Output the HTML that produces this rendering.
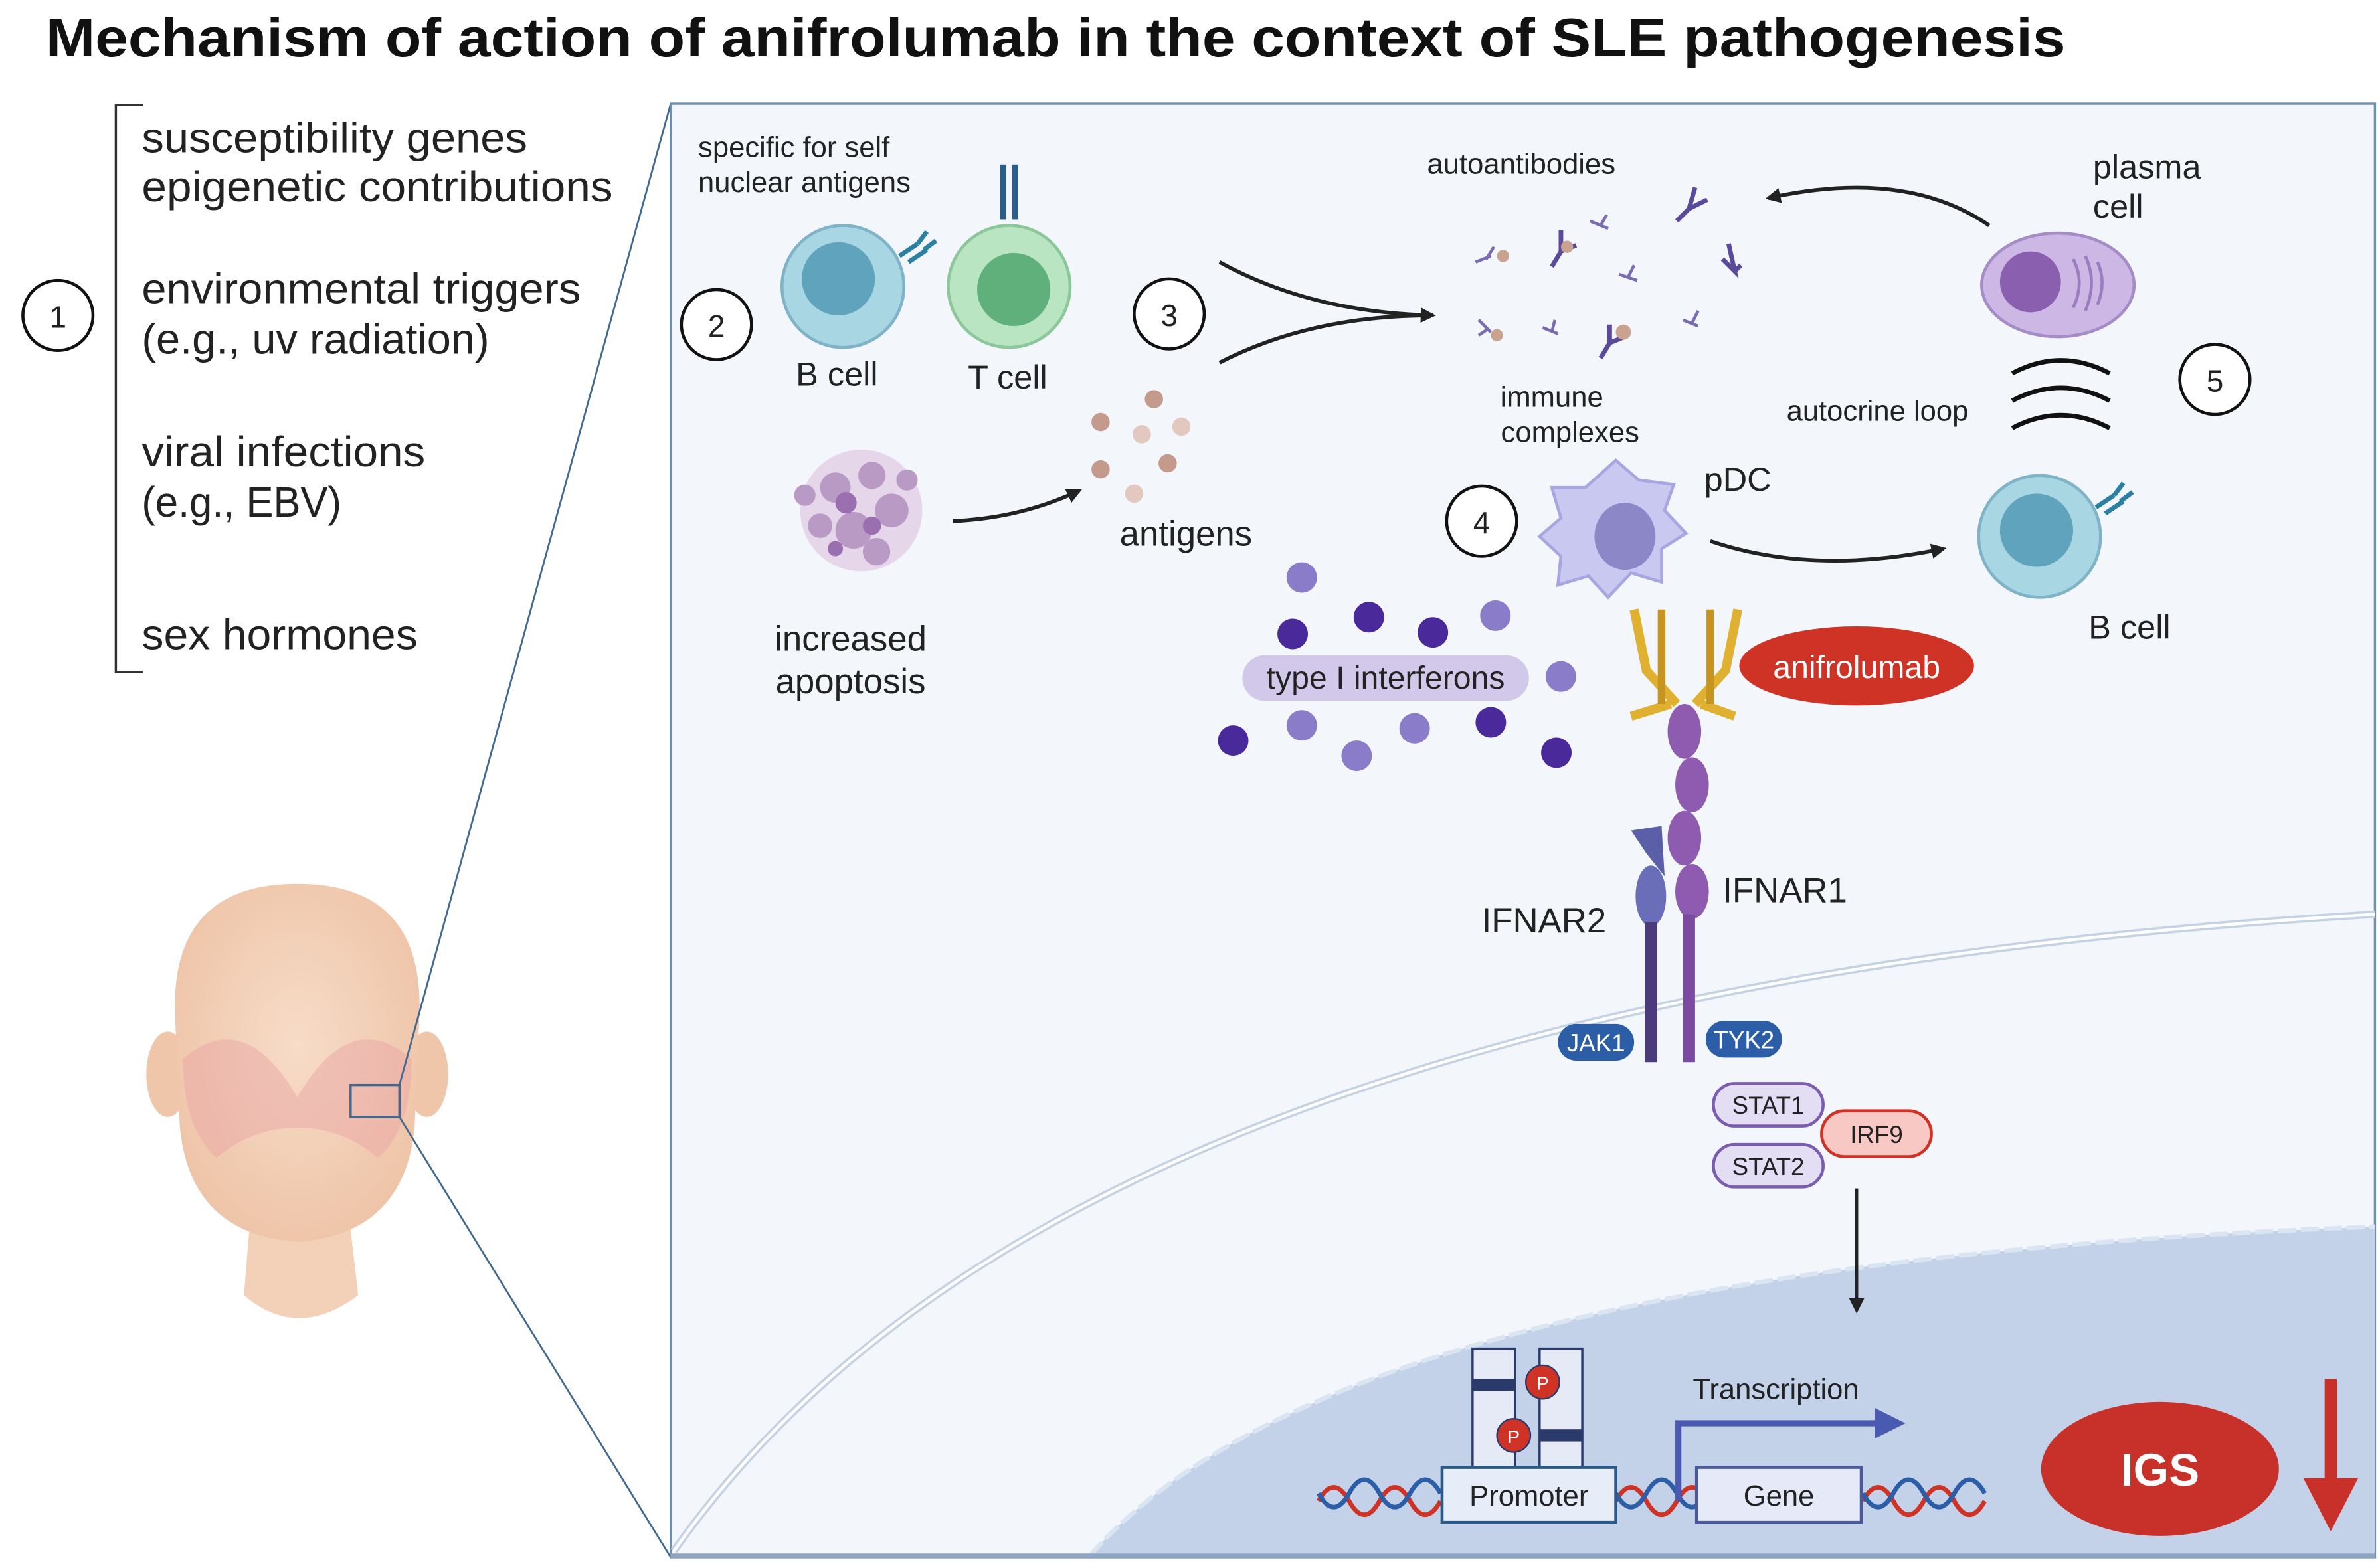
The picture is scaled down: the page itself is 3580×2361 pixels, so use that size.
<!DOCTYPE html>
<html><head><meta charset="utf-8"><style>
html,body{margin:0;padding:0;background:#fff;width:3580px;height:2361px;overflow:hidden}
svg{display:block}
text{font-family:"Liberation Sans",Arial,sans-serif;fill:#222}
</style></head><body>
<svg width="3580" height="2361" viewBox="0 0 1560 1029" preserveAspectRatio="none" xmlns="http://www.w3.org/2000/svg">
<defs>
<marker id="ah" markerWidth="10" markerHeight="10" refX="8" refY="5" orient="auto" markerUnits="userSpaceOnUse"><path d="M0,0 L10,5 L0,10 z" fill="#222"/></marker>
<radialGradient id="skin" cx="50%" cy="45%" r="60%"><stop offset="0" stop-color="#f7dcc8"/><stop offset="1" stop-color="#eec3a6"/></radialGradient>
</defs>
<text x="30" y="37" font-size="36" font-weight="bold" textLength="1325" lengthAdjust="spacingAndGlyphs" style="fill:#111">Mechanism of action of anifrolumab in the context of SLE pathogenesis</text>

<!-- left list -->
<path d="M94,69 H76 V441 H94" fill="none" stroke="#333" stroke-width="1.5"/>
<g font-size="28">
<text x="93" y="100" textLength="253" lengthAdjust="spacingAndGlyphs">susceptibility genes</text>
<text x="93" y="132" textLength="309" lengthAdjust="spacingAndGlyphs">epigenetic contributions</text>
<text x="93" y="199" textLength="288" lengthAdjust="spacingAndGlyphs">environmental triggers</text>
<text x="93" y="232" textLength="228" lengthAdjust="spacingAndGlyphs">(e.g., uv radiation)</text>
<text x="93" y="306" textLength="186" lengthAdjust="spacingAndGlyphs">viral infections</text>
<text x="93" y="339" textLength="131" lengthAdjust="spacingAndGlyphs">(e.g., EBV)</text>
<text x="93" y="426" textLength="181" lengthAdjust="spacingAndGlyphs">sex hormones</text>
</g>
<circle cx="38" cy="207" r="23" fill="#fff" stroke="#111" stroke-width="2"/>
<text x="38" y="215" font-size="20" text-anchor="middle">1</text>

<!-- head -->
<path d="M165,790 L160,850 Q195,880 235,850 L228,790 Z" fill="#f3d0b8"/>
<ellipse cx="110" cy="705" rx="14" ry="28" fill="#efc6aa"/>
<ellipse cx="280" cy="705" rx="14" ry="28" fill="#efc6aa"/>
<path d="M115,670 Q110,580 195,580 Q280,580 275,670 L272,740 Q265,810 195,815 Q125,810 118,740 Z" fill="url(#skin)"/>
<path d="M120,695 Q160,660 195,720 Q230,660 270,695 Q270,740 248,760 Q225,740 195,740 Q165,740 142,760 Q120,740 120,695 Z" fill="#e8a2a4" opacity="0.45"/>
<rect x="230" y="712" width="32" height="21" fill="none" stroke="#41698f" stroke-width="1.5"/>
<line x1="262" y1="712" x2="440" y2="68" stroke="#41698f" stroke-width="1.2"/>
<line x1="262" y1="733" x2="440" y2="1022" stroke="#41698f" stroke-width="1.2"/>

<!-- panel -->
<rect x="440" y="68" width="1118" height="954" fill="#f3f7fc" stroke="#6f8fae" stroke-width="1.5"/>
<path d="M442,1018 Q700,650 1558,600" fill="none" stroke="#c4d2e4" stroke-width="5"/>
<path d="M442,1018 Q700,650 1558,600" fill="none" stroke="#fff" stroke-width="2"/>
<path d="M715,1021 Q880,830 1558,805 L1558,1021 Z" fill="#c3d2e8"/>
<path d="M715,1021 Q880,830 1558,805" fill="none" stroke="#dbe5f2" stroke-width="3" stroke-dasharray="12,3"/>
<line x1="440" y1="1021" x2="1558" y2="1021" stroke="#8ea6c2" stroke-width="3"/>

<!-- step 2 cells -->
<text x="458" y="103" font-size="19">specific for self</text>
<text x="458" y="126" font-size="19">nuclear antigens</text>
<circle cx="553" cy="188" r="40" fill="#a9d6e3" stroke="#7fb4c8" stroke-width="2"/>
<circle cx="550" cy="183" r="24" fill="#5fa3bd"/>
<path d="M590,168 l12,-8 M596,172 l12,-8 M602,160 l6,-8 M606,164 l8,-6" stroke="#2b7fa3" stroke-width="3"/>
<circle cx="662" cy="188" r="40" fill="#b9e5c2" stroke="#8cc79a" stroke-width="2"/>
<circle cx="665" cy="190" r="24" fill="#5fb07a"/>
<rect x="656" y="108" width="4" height="36" fill="#2c5d8a"/><rect x="664" y="108" width="4" height="36" fill="#2c5d8a"/>
<text x="549" y="253" font-size="22" text-anchor="middle">B cell</text>
<text x="661" y="255" font-size="22" text-anchor="middle">T cell</text>
<circle cx="470" cy="213" r="23" fill="#fff" stroke="#111" stroke-width="2"/>
<text x="470" y="221" font-size="20" text-anchor="middle">2</text>
<circle cx="767" cy="206" r="23" fill="#fff" stroke="#111" stroke-width="2"/>
<text x="767" y="214" font-size="20" text-anchor="middle">3</text>

<path d="M800,172 Q860,205 940,207" fill="none" stroke="#222" stroke-width="2.5" marker-end="url(#ah)"/>
<path d="M800,238 Q860,207 940,207" fill="none" stroke="#222" stroke-width="2.5"/>

<text x="998" y="114" font-size="19" text-anchor="middle">autoantibodies</text>
<g stroke="#5b4a99" stroke-width="3" fill="none">
<path d="M1100,145 l8,-8 l4,-14 M1108,137 l12,-6"/>
<path d="M1018,175 l6,-10 l0,-14 M1024,165 l10,-4"/>
<path d="M1130,170 l8,8 l-4,-18 M1138,178 l4,-4"/>
<path d="M1050,235 l6,-10 l0,-12 M1056,225 l10,-4"/>
<path d="M968,172 l10,-4 M975,170 l5,-8" stroke="#7b6bb3" stroke-width="2"/>
<path d="M1043,145 l12,5 M1050,148 l4,-7" stroke="#7b6bb3" stroke-width="2"/>
<path d="M1062,180 l12,4 M1068,182 l4,-8" stroke="#7b6bb3" stroke-width="2"/>
<path d="M970,210 l8,8 M976,216 l-6,4" stroke="#7b6bb3" stroke-width="2"/>
<path d="M1012,215 l10,4 M1018,218 l2,-8" stroke="#7b6bb3" stroke-width="2"/>
<path d="M1104,210 l10,4 M1110,212 l4,-8" stroke="#7b6bb3" stroke-width="2"/>
</g>
<circle cx="986" cy="168" r="4" fill="#c9a38f"/><circle cx="1028" cy="162" r="4" fill="#c9a38f"/><circle cx="982" cy="220" r="4" fill="#c9a38f"/><circle cx="1065" cy="218" r="5" fill="#c9a38f"/>
<text x="1018" y="267" font-size="19" text-anchor="middle">immune</text>
<text x="1030" y="290" font-size="19" text-anchor="middle">complexes</text>

<path d="M1305,148 Q1250,110 1160,130" fill="none" stroke="#222" stroke-width="2.5" marker-end="url(#ah)"/>
<text x="1373" y="117" font-size="22">plasma</text>
<text x="1373" y="143" font-size="22">cell</text>
<ellipse cx="1350" cy="187" rx="50" ry="34" fill="#cdb7e4" stroke="#a58cc8" stroke-width="2"/>
<circle cx="1332" cy="185" r="20" fill="#8a5fb0"/>
<path d="M1360,170 q8,15 0,32 M1368,168 q8,17 0,36 M1376,172 q6,13 0,28" fill="none" stroke="#9a7cc0" stroke-width="2"/>
<path d="M1320,245 Q1352,228 1384,245 M1320,263 Q1352,246 1384,263 M1320,281 Q1352,264 1384,281" fill="none" stroke="#111" stroke-width="3"/>
<text x="1172" y="276" font-size="19">autocrine loop</text>
<circle cx="1453" cy="249" r="23" fill="#fff" stroke="#111" stroke-width="2"/>
<text x="1453" y="257" font-size="20" text-anchor="middle">5</text>

<circle cx="1338" cy="352" r="40" fill="#a9d6e3" stroke="#7fb4c8" stroke-width="2"/>
<circle cx="1336" cy="348" r="24" fill="#5fa3bd"/>
<path d="M1375,333 l12,-8 M1381,337 l12,-8 M1387,325 l6,-8 M1391,329 l8,-6" stroke="#2b7fa3" stroke-width="3"/>
<text x="1397" y="419" font-size="22" text-anchor="middle">B cell</text>

<g fill="#b99ac4">
<circle cx="565" cy="335" r="40" fill="#e5d6ea"/>
<circle cx="548" cy="320" r="10"/><circle cx="572" cy="312" r="9"/><circle cx="585" cy="335" r="11"/><circle cx="560" cy="348" r="12"/><circle cx="538" cy="345" r="8"/><circle cx="575" cy="362" r="9"/><circle cx="595" cy="315" r="7"/><circle cx="528" cy="325" r="7"/>
</g>
<g fill="#9a6fb0"><circle cx="555" cy="330" r="7"/><circle cx="572" cy="345" r="6"/><circle cx="548" cy="360" r="5"/></g>
<text x="558" y="427" font-size="23" text-anchor="middle">increased</text>
<text x="558" y="455" font-size="23" text-anchor="middle">apoptosis</text>
<path d="M625,342 Q670,340 708,322" fill="none" stroke="#222" stroke-width="2.5" marker-end="url(#ah)"/>
<g fill="#c49a8c"><circle cx="722" cy="277" r="6"/><circle cx="757" cy="262" r="6"/><circle cx="749" cy="285" r="6" fill="#e3c8bf"/><circle cx="775" cy="280" r="6" fill="#e3c8bf"/><circle cx="722" cy="308" r="6"/><circle cx="766" cy="304" r="6"/><circle cx="744" cy="324" r="6" fill="#e3c8bf"/></g>
<text x="778" y="358" font-size="23" text-anchor="middle">antigens</text>

<circle cx="972" cy="342" r="23" fill="#fff" stroke="#111" stroke-width="2"/>
<text x="972" y="350" font-size="20" text-anchor="middle">4</text>
<path d="M1060,302 L1075,315 L1098,318 L1092,335 L1106,350 L1090,360 L1090,382 L1070,376 L1055,392 L1042,378 L1022,384 L1024,365 L1010,352 L1024,340 L1018,320 L1040,320 Z" fill="#c9c8f0" stroke="#a8a6e0" stroke-width="2"/>
<ellipse cx="1066" cy="352" rx="20" ry="22" fill="#8c88c8"/>
<text x="1118" y="322" font-size="22">pDC</text>
<path d="M1122,355 Q1190,378 1275,360" fill="none" stroke="#222" stroke-width="2.5" marker-end="url(#ah)"/>

<rect x="815" y="430" width="188" height="30" rx="15" fill="#d2c8ea"/>
<text x="909" y="452" font-size="21" text-anchor="middle">type I interferons</text>
<g fill="#4a2a9a"><circle cx="848" cy="416" r="10"/><circle cx="898" cy="405" r="10"/><circle cx="940" cy="415" r="10"/><circle cx="809" cy="486" r="10"/><circle cx="978" cy="474" r="10"/><circle cx="1021" cy="494" r="10"/></g>
<g fill="#8a7cc8"><circle cx="854" cy="379" r="10"/><circle cx="981" cy="404" r="10"/><circle cx="1024" cy="444" r="10"/><circle cx="854" cy="476" r="10"/><circle cx="890" cy="496" r="10"/><circle cx="928" cy="478" r="10"/></g>

<path d="M1100,462 L1080,440 L1072,400 M1112,462 L1132,440 L1140,400 M1096,462 L1070,470 M1116,462 L1138,470" fill="none" stroke="#e0b030" stroke-width="6"/>
<path d="M1090,400 L1090,462 M1122,400 L1122,462" stroke="#c89420" stroke-width="5"/>
<ellipse cx="1218" cy="437" rx="77" ry="26" fill="#cf3326"/>
<text x="1218" y="445" font-size="21" text-anchor="middle" style="fill:#fff">anifrolumab</text>
<g fill="#8f5bb0">
<ellipse cx="1105" cy="480" rx="11" ry="18"/><ellipse cx="1110" cy="515" rx="11" ry="18"/><ellipse cx="1105" cy="550" rx="11" ry="18"/><ellipse cx="1110" cy="585" rx="11" ry="18"/>
</g>
<path d="M1070,545 L1090,542 L1092,575 L1080,560 Z" fill="#5a5fa8"/>
<ellipse cx="1083" cy="588" rx="10" ry="20" fill="#6a6db8"/>
<rect x="1079" y="605" width="8" height="92" fill="#4b3b7c"/>
<rect x="1104" y="600" width="8" height="97" fill="#7a4ba0"/>
<text x="1130" y="592" font-size="23">IFNAR1</text>
<text x="972" y="612" font-size="23">IFNAR2</text>
<rect x="1022" y="672" width="50" height="24" rx="12" fill="#2c5ea8"/><text x="1047" y="690" font-size="16" text-anchor="middle" style="fill:#fff">JAK1</text>
<rect x="1119" y="670" width="50" height="24" rx="12" fill="#2c5ea8"/><text x="1144" y="688" font-size="16" text-anchor="middle" style="fill:#fff">TYK2</text>
<rect x="1124" y="711" width="72" height="28" rx="14" fill="#e3def3" stroke="#7a5cb0" stroke-width="2"/><text x="1160" y="731" font-size="16" text-anchor="middle">STAT1</text>
<rect x="1124" y="751" width="72" height="28" rx="14" fill="#e3def3" stroke="#7a5cb0" stroke-width="2"/><text x="1160" y="771" font-size="16" text-anchor="middle">STAT2</text>
<rect x="1195" y="729" width="72" height="30" rx="15" fill="#f7c8c4" stroke="#cf3326" stroke-width="2"/><text x="1231" y="750" font-size="16" text-anchor="middle">IRF9</text>
<path d="M1218,780 L1218,860" stroke="#222" stroke-width="2" marker-end="url(#ah)"/>

<g fill="none" stroke-width="3">
<path d="M865,985 q10,-18 20,0 t20,0 t20,0 t20,0" stroke="#cf3326"/>
<path d="M865,980 q10,18 20,0 t20,0 t20,0 t20,0" stroke="#2c5ea8"/>
<path d="M1060,985 q10,-18 20,0 t20,0 t20,0" stroke="#cf3326"/>
<path d="M1060,980 q10,18 20,0 t20,0 t20,0" stroke="#2c5ea8"/>
<path d="M1222,985 q10,-18 20,0 t20,0 t20,0 t20,0" stroke="#cf3326"/>
<path d="M1222,980 q10,18 20,0 t20,0 t20,0 t20,0" stroke="#2c5ea8"/>
</g>
<rect x="966" y="885" width="28" height="80" fill="#e6e9f6" stroke="#2a3a6a" stroke-width="1.5"/>
<rect x="1010" y="885" width="28" height="80" fill="#e6e9f6" stroke="#2a3a6a" stroke-width="1.5"/>
<rect x="966" y="905" width="28" height="8" fill="#2a3a6a"/><rect x="1010" y="938" width="28" height="8" fill="#2a3a6a"/>
<circle cx="1012" cy="907" r="11" fill="#cf3326" stroke="#2a3a6a"/><text x="1012" y="912" font-size="12" text-anchor="middle" style="fill:#fff">P</text>
<circle cx="993" cy="942" r="11" fill="#cf3326" stroke="#2a3a6a"/><text x="993" y="947" font-size="12" text-anchor="middle" style="fill:#fff">P</text>
<rect x="946" y="963" width="114" height="36" fill="#e6ecf8" stroke="#2c5a88" stroke-width="2"/>
<text x="1003" y="988" font-size="19" text-anchor="middle">Promoter</text>
<rect x="1113" y="963" width="108" height="36" fill="#e6e9f8" stroke="#4a5a98" stroke-width="2"/>
<text x="1167" y="988" font-size="19" text-anchor="middle">Gene</text>
<path d="M1101,985 L1101,934 L1232,934" fill="none" stroke="#4a5ab0" stroke-width="4"/>
<path d="M1230,924 L1250,934 L1230,944 Z" fill="#4a5ab0"/>
<text x="1165" y="918" font-size="19" text-anchor="middle">Transcription</text>
<ellipse cx="1417" cy="964" rx="78" ry="44" fill="#c8312a"/>
<text x="1417" y="975" font-size="30" font-weight="bold" text-anchor="middle" style="fill:#fff">IGS</text>
<rect x="1525" y="905" width="8" height="70" fill="#c8312a"/>
<path d="M1511,970 L1547,970 L1529,1005 Z" fill="#c8312a"/>
</svg>
</body></html>
